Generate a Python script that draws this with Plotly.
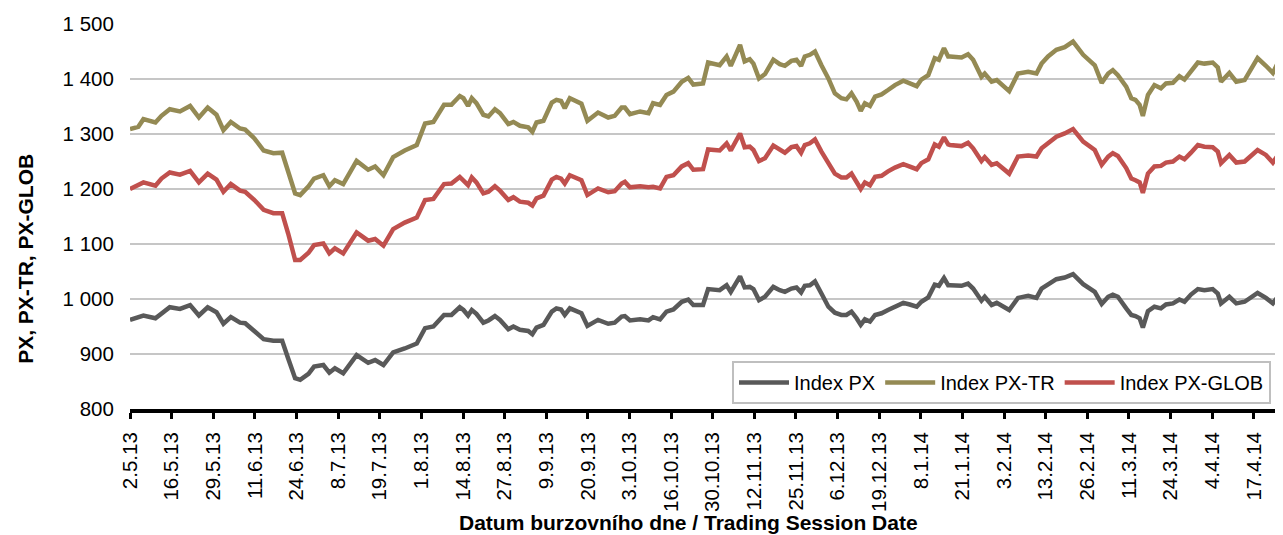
import plotly.graph_objects as go

# Trading-session index (0 = 2.5.13), one trading day per unit
day = [
    0.0, 1.8, 2.9, 5.5, 6.8, 8.6, 10.8, 13.0, 14.9, 16.8, 18.7, 20.2, 21.8, 23.8, 24.9, 26.9, 28.9, 31.0, 32.9, 34.2, 35.7,
    36.8, 38.6, 39.8, 41.8, 43.1, 44.3, 46.1, 49.0, 51.5, 53.0, 54.8, 56.9, 59.4, 62.0, 63.8, 65.6, 67.9, 69.5,
    71.3, 72.1, 73.1, 73.9, 74.9, 76.4, 77.5, 78.9, 80.0, 81.8, 82.9, 84.3, 86.1, 87.0, 87.9, 89.4, 91.2, 92.2, 93.2, 94.0, 95.1, 97.6, 98.9, 101.2, 103.4, 104.8, 106.3,
    107.0, 108.1, 110.3, 112.1, 113.1, 114.6, 116.0, 117.5, 119.3, 120.7, 121.8, 123.9, 125.0, 127.5, 129.0, 129.9, 131.9, 132.9, 134.0, 134.8, 136.0, 137.3, 139.1, 140.5,
    141.6, 143.0, 144.1, 145.1, 145.9, 147.0, 148.1, 149.5, 151.0, 152.4, 153.8, 154.9, 156.0, 157.1, 158.0, 158.9, 160.0, 161.1, 162.5, 163.9, 165.4, 167.2, 168.6, 170.1, 171.1, 172.6, 174.0, 174.9, 176.0, 176.9,
    177.3, 179.8, 181.2, 182.3, 184.1, 184.8, 186.3, 187.4, 190.1, 192.0, 194.2, 196.0, 197.1, 198.5, 200.3, 202.1, 203.9, 206.1, 208.6, 210.1, 211.5,
    212.5, 213.6, 215.4, 216.5, 217.4, 218.3, 219.0, 220.1, 221.5, 222.9, 224.0, 225.5, 226.9, 228.0, 229.4, 230.9, 232.3, 234.1, 235.2, 235.9, 237.7, 239.2, 241.0, 243.8, 245.6, 247.1, 248.5, 249.2,
]

px_values = [
    962, 967, 970, 965, 974, 985, 982, 989, 970, 985, 976, 955, 967, 957, 956, 941, 927, 924, 924, 892, 856,
    853, 864, 877, 880, 866, 874, 865, 898, 884, 889, 880, 903, 910, 919, 947, 950, 971, 971,
    985, 980, 970, 980, 973, 957, 961, 969, 962, 945, 950, 944, 942, 936, 948, 953, 977, 983, 981, 971, 983, 974, 951, 962, 955, 957, 968,
    969, 961, 963, 961, 967, 963, 977, 981, 995, 999, 989, 989, 1018, 1016, 1025, 1013, 1041, 1021, 1022, 1018, 998, 1004, 1022, 1016,
    1013, 1019, 1021, 1012, 1024, 1025, 1032, 1010, 986, 975, 971, 971, 977, 965, 953, 963, 959, 971, 974, 980, 986, 993, 990, 986, 995, 1003, 1026, 1024, 1038, 1025,
    1025, 1024, 1028, 1019, 997, 1004, 989, 993, 980, 1002, 1006, 1002, 1019, 1027, 1036, 1039, 1045, 1027, 1013, 991, 1004,
    1008, 1004, 983, 971, 969, 965, 948, 978, 986, 983, 990, 992, 999, 995, 1008, 1018, 1016, 1018, 1010, 992, 1004, 992, 995, 1011, 1002, 992, 1008, 1010,
]

px_tr_values = [
    1309, 1313, 1327, 1321, 1333, 1345, 1341, 1351, 1330, 1348, 1335, 1307, 1322, 1310, 1308, 1292, 1270, 1265, 1266, 1232, 1192,
    1189, 1205, 1219, 1225, 1205, 1216, 1209, 1251, 1235, 1241, 1225, 1258, 1270, 1280, 1319, 1322, 1353, 1353,
    1369, 1365, 1351, 1365, 1356, 1335, 1332, 1345, 1338, 1318, 1322, 1315, 1312, 1304, 1321, 1324, 1357, 1362, 1360, 1347, 1365, 1355, 1324, 1339, 1330, 1333, 1348,
    1348, 1336, 1341, 1338, 1356, 1353, 1371, 1377, 1395, 1402, 1390, 1392, 1430, 1425, 1441, 1424, 1462, 1432, 1436, 1428, 1401, 1409, 1435, 1427,
    1424, 1433, 1435, 1424, 1441, 1444, 1450, 1425, 1401, 1374, 1365, 1363, 1374, 1359, 1342, 1356, 1351, 1368, 1372, 1380, 1389, 1397, 1392, 1387, 1399, 1407, 1438, 1435, 1456, 1441,
    1441, 1439, 1445, 1435, 1404, 1410, 1395, 1398, 1378, 1410, 1413, 1410, 1428, 1441, 1453, 1458, 1468, 1444, 1425, 1393, 1410,
    1416, 1407, 1386, 1365, 1362, 1353, 1333, 1371, 1389, 1383, 1392, 1393, 1405, 1399, 1413, 1430, 1428, 1430, 1421, 1395, 1411, 1395, 1398, 1438, 1424, 1411, 1435, 1438,
]

px_glob_values = [
    1200, 1207, 1212, 1206, 1219, 1230, 1226, 1233, 1212, 1228, 1217, 1195, 1209, 1197, 1195, 1180, 1162, 1156, 1156, 1119, 1071,
    1071, 1084, 1098, 1101, 1083, 1092, 1083, 1121, 1106, 1109, 1097, 1127, 1139, 1148, 1180, 1182, 1209, 1210,
    1222, 1215, 1207, 1221, 1212, 1192, 1195, 1205, 1197, 1180, 1185, 1177, 1175, 1170, 1183, 1188, 1217, 1222, 1219, 1210, 1225, 1216, 1189, 1201, 1194, 1196, 1210,
    1213, 1203, 1205, 1203, 1204, 1201, 1222, 1225, 1241, 1247, 1235, 1236, 1272, 1270, 1283, 1270, 1301, 1276, 1277, 1271, 1251, 1256, 1279, 1272,
    1266, 1276, 1278, 1266, 1280, 1283, 1290, 1268, 1247, 1228, 1221, 1221, 1228, 1213, 1200, 1212, 1207, 1222, 1224, 1232, 1239, 1245, 1241, 1236, 1247, 1254, 1281, 1277, 1294, 1281,
    1280, 1278, 1284, 1274, 1251, 1258, 1244, 1247, 1228, 1259, 1261, 1259, 1274, 1283, 1295, 1301, 1309, 1286, 1271, 1244, 1259,
    1265, 1260, 1238, 1219, 1216, 1212, 1193, 1228, 1241, 1242, 1248, 1250, 1259, 1254, 1266, 1280, 1277, 1276, 1268, 1247, 1262, 1248, 1250, 1271, 1262, 1248, 1265, 1268,
]

tick_labels = [
    "2.5.13", "16.5.13", "29.5.13", "11.6.13", "24.6.13", "8.7.13", "19.7.13", "1.8.13",
    "14.8.13", "27.8.13", "9.9.13", "20.9.13", "3.10.13", "16.10.13", "30.10.13", "12.11.13",
    "25.11.13", "6.12.13", "19.12.13", "8.1.14", "21.1.14", "3.2.14", "13.2.14", "26.2.14",
    "11.3.14", "24.3.14", "4.4.14", "17.4.14",
]
tick_days = [i * 9 for i in range(len(tick_labels))]

series = [
    ("Index PX", px_values, "#595959"),
    ("Index PX-TR", px_tr_values, "#948a54"),
    ("Index PX-GLOB", px_glob_values, "#c0504d"),
]

FONT = "Arial, 'Liberation Sans', sans-serif"

fig = go.Figure()
for name, vals, color in series:
    fig.add_trace(go.Scatter(
        x=day, y=vals, name=name, mode="lines",
        line=dict(color=color, width=4.5),
    ))

# the page body adds an 8 px offset; the figure is sized so the plot area
# lands at x 130..1283, y 24..409 of the window
fig.update_layout(
    width=1275, height=527,
    margin=dict(l=122, r=0, t=16, b=126),
    paper_bgcolor="white", plot_bgcolor="white",
    separators=", ",
    font=dict(family=FONT, size=20.5, color="#000000"),
    showlegend=True,
    legend=dict(
        orientation="h",
        x=0.9896, xanchor="right",
        y=0.013, yanchor="bottom",
        bgcolor="white", bordercolor="#bfbfbf", borderwidth=2,
        font=dict(family=FONT, size=20, color="#000000"),
        itemwidth=50, tracegroupgap=0,
    ),
    xaxis=dict(
        range=[0, 249.3],
        tickmode="array", tickvals=tick_days, ticktext=tick_labels,
        tickangle=-90,
        ticks="outside", ticklen=6, tickwidth=3, tickcolor="black",
        ticklabelstandoff=5,
        showline=True, linecolor="black", linewidth=4,
        showgrid=False, zeroline=False,
        tickfont=dict(family=FONT, size=20.5, color="#000000"),
    ),
    yaxis=dict(
        range=[800, 1500], dtick=100, tick0=800,
        tickformat=",d",
        showgrid=True, gridcolor="#c6c6c6", gridwidth=2,
        showline=False, zeroline=False,
        ticks="outside", ticklen=11, tickcolor="rgba(0,0,0,0)",
        tickfont=dict(family=FONT, size=20.5, color="#000000"),
    ),
    annotations=[
        dict(text="<b>Datum burzovního dne / Trading Session Date</b>",
             xref="paper", yref="paper", x=0.484, y=-0.296,
             xanchor="center", yanchor="middle", showarrow=False,
             font=dict(family=FONT, size=21, color="#000000")),
        dict(text="<b>PX, PX-TR, PX-GLOB</b>",
             xref="paper", yref="paper", x=-0.0902, y=0.39, textangle=-90,
             xanchor="center", yanchor="middle", showarrow=False,
             font=dict(family=FONT, size=21, color="#000000")),
    ],
)

fig.write_html("out.html")
